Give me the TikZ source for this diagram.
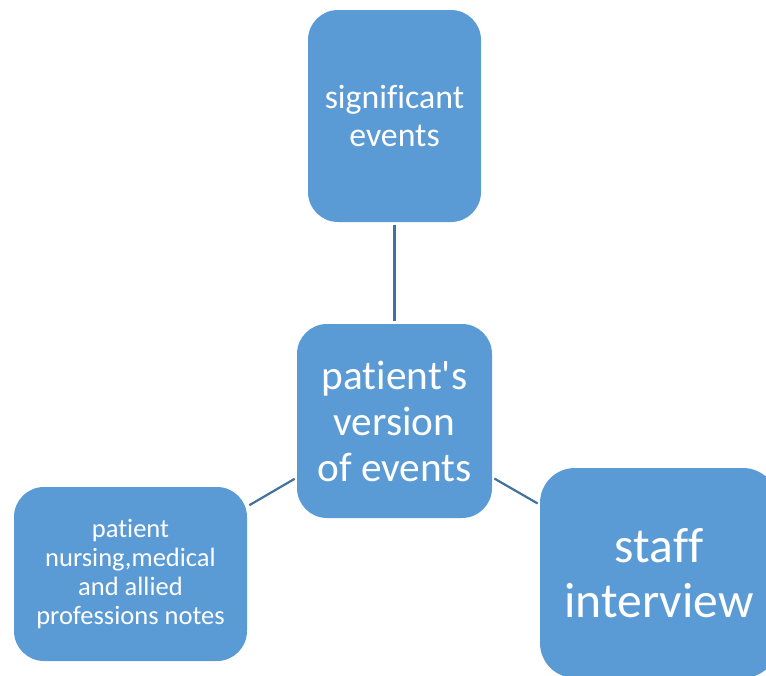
\documentclass[tikz,border=0pt]{standalone}
\usepackage{fontspec}
\setmainfont[Ligatures={NoCommon}]{Carlito}
\definecolor{boxblue}{HTML}{5B9BD5}
\definecolor{linkblue}{HTML}{41719C}
\begin{document}
\begin{tikzpicture}[x=1pt,y=-1pt,
  box/.style={fill=boxblue, rounded corners=30pt, align=center, text=white, inner sep=0pt},
  link/.style={draw=linkblue, line width=2.2pt, shorten <=2.5pt, shorten >=2.5pt}]
\useasboundingbox (0,0) rectangle (766,675);
\clip (0,0) rectangle (766,675);
\node[box, minimum width=173pt, minimum height=212pt,
      font=\fontsize{33.8}{38}\selectfont] (sig) at (394.5,116) {signif\kern0pt icant\\events};
\node[box, minimum width=195pt, minimum height=194pt,
      font=\fontsize{41.3}{46}\selectfont] (pat) at (394.5,421) {patient\textquotesingle s\\version\\of events};
\node[box, minimum width=233pt, minimum height=174pt,
      font=\fontsize{26.5}{29}\selectfont] (notes) at (130.5,574) {patient\\nursing,medical\\and allied\\professions notes};
\node[box, rounded corners=35pt, minimum width=238pt, minimum height=210pt,
      font=\fontsize{49.6}{55}\selectfont] (staff) at (659,573) {staf\kern0pt f\\interview};
\draw[link] (sig) -- (pat);
\draw[link] (pat) -- (notes);
\draw[link] (pat) -- (staff);
\end{tikzpicture}
\end{document}
